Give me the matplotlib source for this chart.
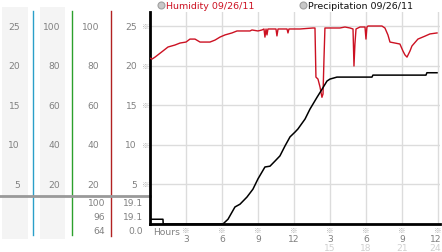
import numpy as np
import matplotlib
matplotlib.use('Agg')
import matplotlib.pyplot as plt
from matplotlib import transforms

plt.rcParams['font.family'] = ['DejaVu Sans', 'Noto Sans CJK JP']

# humidity (%) vs hours
hum_hours = [0.0, 0.17, 0.42, 1.08, 1.5, 2.08, 2.5, 3.0, 3.33, 3.75, 4.17, 5.0, 5.42,
             5.83, 6.25, 6.83, 7.25, 8.33, 8.5, 9.0, 9.33, 9.5, 9.58, 9.67, 9.75, 9.83,
             10.5, 10.58, 10.67, 11.42, 11.5, 11.58, 12.5, 13.58, 13.75, 13.83, 14.0,
             14.17, 14.33, 14.42, 14.5, 14.58, 15.0, 15.83, 16.25, 16.67, 16.92, 17.0,
             17.08, 17.17, 17.5, 17.92, 18.0, 18.08, 18.17, 19.33, 19.58, 19.83, 20.0,
             20.42, 20.83, 21.08, 21.25, 21.42, 21.67, 21.83, 22.33, 22.92, 23.33, 23.92]
humidity = [83.8, 83.3, 84.3, 87.4, 89.4, 90.4, 91.4, 91.9, 93.4, 93.4, 91.9, 91.9, 92.9,
            94.4, 95.5, 96.5, 97.5, 97.5, 98.0, 97.5, 98.0, 98.5, 94.4, 98.5, 95.5, 98.5,
            98.5, 95.0, 98.5, 98.5, 96.5, 98.5, 98.5, 99.0, 99.0, 74.2, 73.2,
            69.2, 64.0, 65.7, 83.3, 99.0, 99.0, 99.0, 99.5, 99.0, 98.5, 79.8,
            90.9, 98.5, 99.5, 99.5, 93.4, 99.5, 100.0, 100.0, 99.0, 95.5, 91.9,
            91.4, 90.9, 87.4, 85.4, 84.3, 87.4, 89.9, 93.4, 94.9, 96.0, 96.5]

# precipitation vs hours
precip_hours = [0.0, 1.08, 1.1, 6.08, 6.5, 7.08, 7.5, 8.08, 8.58, 9.0, 9.58, 10.0, 10.42,
                10.83, 11.25, 11.67, 12.08, 12.33, 12.92, 13.33, 13.92, 14.33, 14.75,
                15.0, 15.58, 18.5, 18.58, 23.0, 23.08, 23.92]
precip = [0.6, 0.6, 0.0, 0.0, 0.6, 2.15, 2.5, 3.4, 4.4, 5.7, 7.2, 7.3, 7.95,
          8.6, 9.85, 11.0, 11.6, 12.0, 13.25, 14.5, 16.0, 17.0, 18.05,
          18.3, 18.55, 18.55, 18.8, 18.8, 19.1, 19.1]

# left scale columns
scale_25 = [25, 20, 15, 10, 5]
scale_100 = [100, 80, 60, 40, 20]
hum_stats = ['100', '96', '64']
precip_stats = ['19.1', '19.1', '0.0']

hour_ticks = [3, 6, 9, 12, 15, 18, 21, 24]
hour_labels = ['3', '6', '9', '12', '3', '6', '9', '12']
hour_labels2 = ['', '', '', '', '15', '18', '21', '24']

W, H = 442, 253
fig = plt.figure(figsize=(W / 100, H / 100), dpi=100)

# background / overlay in pixel coordinates
bg = fig.add_axes([0, 0, 1, 1])
bg.set_xlim(0, W)
bg.set_ylim(H, 0)
bg.axis('off')

ax = fig.add_axes([150 / W, 28 / H, 290 / W, 212 / H])
ax.set_xlim(0, 24.17)
ax.set_ylim(0, 26.77)
ax.patch.set_alpha(0)

gridc = '#dcdcdc'
for v in scale_25:
    ax.axhline(v, color=gridc, lw=1, zorder=1)
for h in hour_ticks:
    ax.axvline(h, color=gridc, lw=1, zorder=1)

ax.plot(hum_hours, np.array(humidity) / 4.0, color='#cc1122', lw=1.0, zorder=3)
ax.plot(precip_hours, precip, color='black', lw=1.1, zorder=4)

for s in ['top', 'right']:
    ax.spines[s].set_visible(False)
ax.spines['left'].set_linewidth(2)
ax.spines['bottom'].set_linewidth(2)
ax.set_xticks([])
ax.set_yticks([])

# left panel
bg.add_patch(plt.Rectangle((2, 8), 26, 232, color='#f4f4f4', lw=0))
bg.add_patch(plt.Rectangle((40, 8), 25, 232, color='#f4f4f4', lw=0))
bg.plot([33, 33], [12, 236], color='#2a9fc9', lw=1)
bg.plot([72, 72], [12, 236], color='#2ca02c', lw=1)
bg.plot([111, 111], [12, 237], color='#b22222', lw=1)
bg.plot([0, 150], [197, 197], color='#999999', lw=2)

tr = transforms.blended_transform_factory(bg.transData, ax.transData)
lc = '#808080'
mc = '#a8a8a8'
fs = 6.6
for v in scale_25:
    bg.text(20, v, str(v), transform=tr, ha='right', va='center', fontsize=fs, color=lc)
    bg.text(137, v, str(v), transform=tr, ha='right', va='center', fontsize=fs, color=lc)
    bg.text(145.5, v, '\u203b', transform=tr, ha='center', va='center', fontsize=5.5,
            color=mc, family=['Noto Sans CJK JP', 'DejaVu Sans'])
for v in scale_100:
    bg.text(60, v / 4.0, str(v), transform=tr, ha='right', va='center', fontsize=fs, color=lc)
    bg.text(99, v / 4.0, str(v), transform=tr, ha='right', va='center', fontsize=fs, color=lc)

for i, (a, b) in enumerate(zip(hum_stats, precip_stats)):
    y = 204 + 14 * i
    bg.text(105, y, a, ha='right', va='center', fontsize=fs, color=lc)
    bg.text(143, y, b, ha='right', va='center', fontsize=fs, color=lc)

# x axis labels
trx = transforms.blended_transform_factory(ax.transData, bg.transData)
bg.text(153, 233, 'Hours', ha='left', va='center', fontsize=fs, color=lc)
for h, l1, l2 in zip(hour_ticks, hour_labels, hour_labels2):
    ha = 'center' if h < 24 else 'right'
    xo = h if h < 24 else 24.28
    bg.text(h, 231, '\u203b', transform=trx, ha='center', va='center', fontsize=5.5,
            color=mc, family=['Noto Sans CJK JP', 'DejaVu Sans'])
    bg.text(xo, 239.5, l1, transform=trx, ha=ha, va='center', fontsize=fs, color=lc)
    if l2:
        bg.text(xo, 248.5, l2, transform=trx, ha=ha, va='center', fontsize=fs, color='#d0d0d0')

# legend
bg.plot([161], [6], 'o', ms=5, mfc='#c8c8c8', mec='#a0a0a0', mew=0.8)
bg.text(166, 6.5, 'Humidity 09/26/11', ha='left', va='center', fontsize=6.8, color='#cc1122')
bg.plot([303], [6], 'o', ms=5, mfc='#c8c8c8', mec='#a0a0a0', mew=0.8)
bg.text(308, 6.5, 'Precipitation 09/26/11', ha='left', va='center', fontsize=6.8, color='#111111')

fig.savefig('out.png', dpi=100)
